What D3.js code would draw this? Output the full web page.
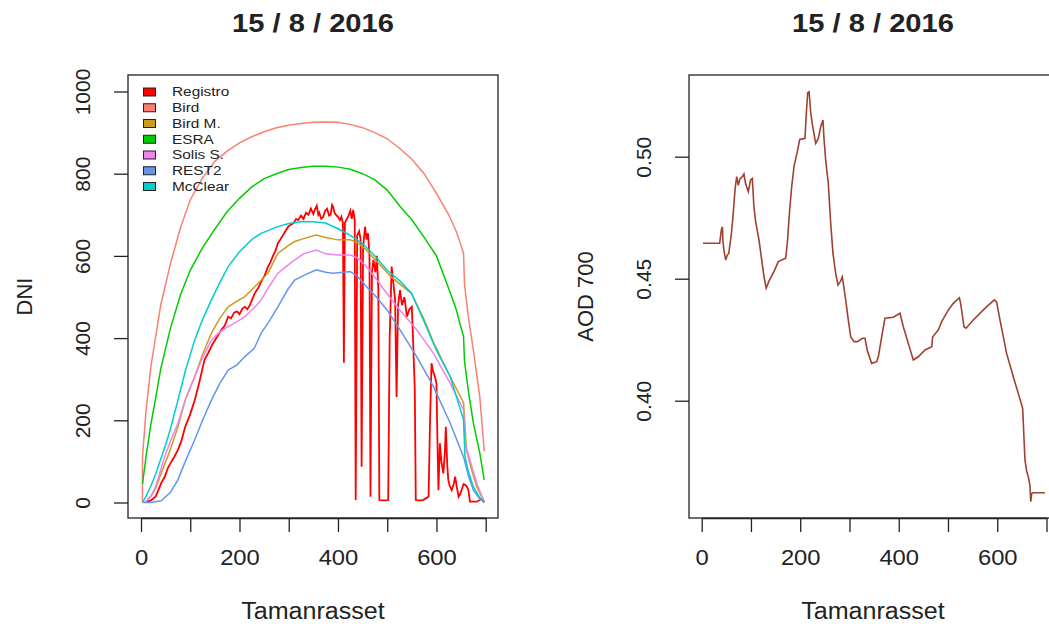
<!DOCTYPE html>
<html>
<head>
<meta charset="utf-8">
<script src="https://cdn.jsdelivr.net/npm/d3@7"></script>
<style>
  body { margin: 0; background: #fff; }
  svg { display: block; }
  text { font-family: "Liberation Sans", Arial, sans-serif; fill: #222; }
</style>
</head>
<body>
<div id="chart"></div>
<script>
// --- data ---
const title = "15 / 8 / 2016";
const xTicks = [0, 100, 200, 300, 400, 500, 600, 700];
const dniTicks = [0, 200, 400, 600, 800, 1000];
const aodTicks = [0.40, 0.45, 0.50];

const seriesNames = ["Registro", "Bird", "Bird M.", "ESRA", "Solis S.", "REST2", "McClear"];
const seriesColors = ["#ff0000", "#fa8072", "#cd9b1d", "#00cd00", "#ee82ee", "#6495ed", "#00cdcd"];

const registro = [[8,0],[20,5],[30,15],[41,47],[48,62],[55,85],[62,100],[68,112],[75,128],[82,150],[90,185],[100,215],[109,249],[118,290],[129,347],[137,365],[145,385],[153,400],[163,420],[170,430],[177,452],[183,448],[189,462],[195,465],[200,458],[206,472],[211,476],[216,470],[221,480],[226,495],[231,509],[238,522],[245,540],[251,552],[258,574],[263,585],[268,600],[273,612],[278,631],[283,640],[288,650],[294,662],[299,671],[304,676],[310,680],[315,690],[319,687],[325,698],[330,690],[335,705],[340,700],[345,715],[350,702],[353,712],[357,722],[360,700],[362,705],[366,690],[370,695],[374,710],[378,715],[382,698],[385,700],[388,724],[390,720],[393,705],[396,700],[400,695],[404,687],[407,695],[410,680],[412,340],[414,680],[418,690],[422,700],[425,710],[428,690],[431,712],[434,687],[436,6],[439,650],[443,660],[446,640],[448,87],[451,620],[455,671],[458,640],[461,655],[464,600],[466,14],[469,560],[472,590],[476,560],[479,600],[482,517],[484,6],[490,5],[496,5],[502,6],[505,400],[509,574],[512,540],[516,493],[519,257],[522,480],[526,517],[530,480],[535,500],[540,452],[545,470],[550,476],[553,380],[556,274],[558,6],[563,5],[568,5],[573,6],[578,10],[584,14],[587,200],[590,339],[593,320],[597,306],[600,290],[602,150],[604,30],[607,144],[610,100],[614,71],[617,120],[619,184],[622,90],[624,55],[627,40],[631,30],[635,45],[638,63],[641,40],[645,14],[648,20],[651,30],[655,45],[658,43],[662,38],[665,30],[668,2],[675,2],[682,2],[688,6],[692,8],[697,0]];

const bird = [[3,0],[3,110],[10,220],[20,330],[30,405],[40,480],[60,582],[80,668],[100,736],[125,790],[150,830],[175,855],[200,875],[225,890],[250,902],[275,912],[300,918],[325,922],[350,925],[375,926],[400,925],[425,920],[450,912],[475,900],[500,885],[525,862],[550,835],[575,800],[600,752],[625,700],[640,660],[650,625],[655,606],[657,530],[665,450],[675,371],[688,257],[697,125]];

const birdM = [[8,0],[20,15],[30,35],[41,71],[60,130],[75,184],[90,250],[109,306],[125,360],[143,412],[160,448],[177,476],[195,490],[211,501],[231,525],[258,558],[278,606],[299,625],[312,635],[330,642],[356,651],[375,645],[400,639],[425,639],[440,632],[458,614],[480,585],[508,549],[549,509],[575,445],[594,390],[628,306],[655,243],[661,128],[670,85],[682,38],[697,2]];

const esra = [[3,45],[10,110],[20,190],[30,255],[40,325],[60,425],[80,505],[100,565],[125,620],[150,665],[175,708],[200,740],[225,768],[250,788],[275,800],[300,810],[325,815],[350,818],[375,818],[400,816],[425,811],[450,800],[475,785],[500,760],[525,722],[550,688],[575,645],[600,600],[625,520],[640,470],[650,425],[655,404],[657,343],[665,270],[675,193],[688,120],[697,55]];

const solis = [[8,0],[20,15],[30,40],[48,111],[60,150],[75,193],[90,250],[109,306],[125,352],[143,395],[160,415],[177,428],[195,440],[211,452],[231,475],[244,493],[260,525],[278,558],[299,578],[312,590],[330,605],[356,614],[375,605],[400,602],[425,602],[440,595],[458,574],[480,540],[499,509],[526,468],[560,420],[594,363],[628,290],[655,225],[658,144],[670,95],[682,47],[697,2]];

const rest2 = [[4,0],[20,0],[41,4],[60,25],[75,55],[90,100],[109,152],[125,200],[143,249],[160,290],[177,322],[195,335],[211,355],[230,375],[244,412],[260,440],[278,476],[299,520],[312,541],[330,552],[356,566],[375,560],[390,558],[425,562],[440,550],[458,525],[478,500],[500,468],[526,420],[560,355],[594,282],[628,193],[655,111],[665,65],[675,30],[688,8],[697,2]];

const mcclear = [[3,0],[10,15],[20,40],[30,70],[40,105],[50,140],[60,180],[75,249],[90,320],[109,395],[125,445],[143,493],[160,535],[177,574],[200,610],[225,640],[244,655],[275,670],[300,679],[325,683],[350,683],[375,680],[400,666],[425,650],[450,630],[475,600],[500,565],[525,540],[549,510],[575,440],[600,370],[628,306],[645,240],[655,201],[658,111],[665,75],[675,38],[688,12],[697,2]];

const aod = [[2.6,0.4645],[36.5,0.4645],[39.8,0.470],[42,0.4713],[43,0.4658],[45,0.4618],[48.7,0.4577],[52,0.4597],[55,0.4604],[60,0.468],[63.5,0.4754],[67.6,0.4864],[71,0.4918],[74.4,0.4883],[77.8,0.491],[82.5,0.4918],[85.8,0.4929],[89,0.489],[94.6,0.4857],[99.4,0.4905],[102.8,0.4911],[106,0.4795],[109.6,0.4733],[116.3,0.4659],[121.8,0.4577],[126.5,0.4508],[131,0.4461],[136.5,0.449],[146.7,0.4529],[155.5,0.457],[170.5,0.4584],[173.8,0.4645],[178.6,0.4782],[182.7,0.4877],[187.4,0.4959],[194,0.502],[199,0.5071],[209.7,0.5075],[212.4,0.5178],[215.2,0.5262],[218,0.5266],[221.4,0.518],[224.8,0.513],[231.4,0.5055],[236.8,0.5075],[241.6,0.5123],[246.2,0.515],[248.4,0.507],[251.7,0.4986],[257,0.4891],[261.9,0.4727],[266.5,0.4604],[272,0.4522],[276.7,0.4474],[282,0.449],[285.5,0.4508],[288.9,0.4461],[292.3,0.4413],[297.6,0.4331],[302.5,0.4262],[309.2,0.4242],[316,0.4242],[326,0.4256],[331.5,0.4256],[336,0.4208],[345,0.4153],[355.3,0.416],[358.6,0.418],[365.4,0.4262],[372,0.4338],[389,0.4342],[402.6,0.4358],[409.3,0.4303],[419.4,0.4235],[429.6,0.4167],[439.7,0.418],[453.3,0.4208],[467,0.4221],[469,0.4262],[480.4,0.429],[487.2,0.4324],[500.8,0.4372],[510.8,0.4399],[523,0.4422],[525.7,0.4399],[532.5,0.4303],[536.6,0.4297],[551.4,0.4331],[571.7,0.4372],[594,0.4413],[598.7,0.4405],[605.5,0.4331],[619,0.4194],[632.6,0.4098],[642.7,0.403],[651.6,0.3969],[654.3,0.3846],[656.3,0.3757],[659.7,0.3712],[663,0.3689],[666.5,0.3652],[668,0.3586],[670,0.362],[673.3,0.3623],[697,0.3623]];

const dniSeries = [registro, bird, birdM, esra, solis, rest2, mcclear];

// --- layout ---
const width = 1049, height = 624;
const FONT = '"Liberation Sans", Arial, sans-serif';

const svg = d3.select("#chart").append("svg")
    .attr("width", width)
    .attr("height", height);

// make horizontal text a bit wider, like the reference
function stretch(sel, k) {
    sel.each(function() {
        const w = this.getComputedTextLength();
        if (w > 0) d3.select(this).attr("textLength", w * k).attr("lengthAdjust", "spacingAndGlyphs");
    });
}

function panel(box, x, y, yTicks, yFmt, yLabel) {
    const g = svg.append("g");

    const clipId = "clip" + box.left;
    g.append("clipPath").attr("id", clipId)
        .append("rect")
        .attr("x", box.left).attr("y", box.top)
        .attr("width", box.right - box.left).attr("height", box.bottom - box.top);

    // x axis
    const xa = g.append("g")
        .attr("transform", `translate(0,${box.bottom})`)
        .call(d3.axisBottom(x).tickValues(xTicks).tickSize(14).tickSizeOuter(0)
            .tickFormat(d => d % 200 === 0 ? d : ""));
    xa.selectAll("line, path").attr("stroke", "#222").attr("stroke-width", 1.3);
    xa.selectAll("text")
        .attr("y", 47).attr("dy", null)
        .style("font-family", FONT).style("font-size", "22px").attr("fill", "#222");
    stretch(xa.selectAll("text"), 1.08);

    // y axis
    const ya = g.append("g")
        .attr("transform", `translate(${box.left},0)`)
        .call(d3.axisLeft(y).tickValues(yTicks).tickSize(14).tickSizeOuter(0).tickFormat(yFmt));
    ya.select(".domain").remove();
    ya.selectAll("line").attr("stroke", "#222").attr("stroke-width", 1.3);
    ya.selectAll("text")
        .attr("x", 0).attr("y", -38).attr("dy", null)
        .attr("transform", "rotate(-90)")
        .attr("text-anchor", "middle")
        .style("font-family", FONT).style("font-size", "21px").attr("fill", "#222");

    // box
    g.append("rect")
        .attr("x", box.left).attr("y", box.top)
        .attr("width", box.right - box.left).attr("height", box.bottom - box.top)
        .attr("fill", "none").attr("stroke", "#222").attr("stroke-width", 1.3);

    // titles
    const t = g.append("text")
        .attr("x", box.center).attr("y", 32)
        .attr("text-anchor", "middle")
        .style("font-size", "26px").style("font-weight", "bold")
        .text(title);
    stretch(t, 1.12);

    const xt = g.append("text")
        .attr("x", box.center).attr("y", 619)
        .attr("text-anchor", "middle")
        .style("font-size", "23px")
        .text("Tamanrasset");
    stretch(xt, 1.09);

    g.append("text")
        .attr("transform", `translate(${box.yLabelX},${(box.top + box.bottom) / 2}) rotate(-90)`)
        .attr("text-anchor", "middle")
        .style("font-size", "22px")
        .text(yLabel);

    return g.append("g").attr("clip-path", `url(#${clipId})`);
}

// --- left: DNI ---
const boxL = { left: 128, right: 498, top: 75, bottom: 518, center: 313, yLabelX: 32 };
const xL = d3.scaleLinear().domain([0, 700]).range([141, 485.7]);
const yL = d3.scaleLinear().domain([0, 1000]).range([502.5, 91.5]);
const plotL = panel(boxL, xL, yL, dniTicks, d => d, "DNI");

const lineL = d3.line().x(d => xL(d[0])).y(d => yL(d[1]));
dniSeries.forEach((s, i) => {
    plotL.append("path")
        .attr("d", lineL(s))
        .attr("fill", "none")
        .attr("stroke", seriesColors[i])
        .attr("stroke-width", i === 0 ? 1.8 : 1.5);
});

// legend
const leg = svg.append("g");
seriesNames.forEach((name, i) => {
    const cy = 92 + i * 15.75;
    leg.append("rect")
        .attr("x", 143.5).attr("y", cy - 4)
        .attr("width", 12).attr("height", 8)
        .attr("fill", seriesColors[i]).attr("stroke", "#222").attr("stroke-width", 1);
    const lt = leg.append("text")
        .attr("x", 172).attr("y", cy + 4.3)
        .style("font-size", "12px")
        .text(name);
    stretch(lt, 1.28);
});

// --- right: AOD 700 ---
const boxR = { left: 689, right: 1059, top: 75, bottom: 518, center: 873, yLabelX: 593 };
const xR = d3.scaleLinear().domain([0, 700]).range([701.7, 1046.5]);
const yR = d3.scaleLinear().domain([0.40, 0.50]).range([400.7, 156.7]);
const plotR = panel(boxR, xR, yR, aodTicks, d3.format(".2f"), "AOD 700");

plotR.append("path")
    .attr("d", d3.line().x(d => xR(d[0])).y(d => yR(d[1]))(aod))
    .attr("fill", "none")
    .attr("stroke", "#a0402f")
    .attr("stroke-width", 1.6);
</script>
</body>
</html>
